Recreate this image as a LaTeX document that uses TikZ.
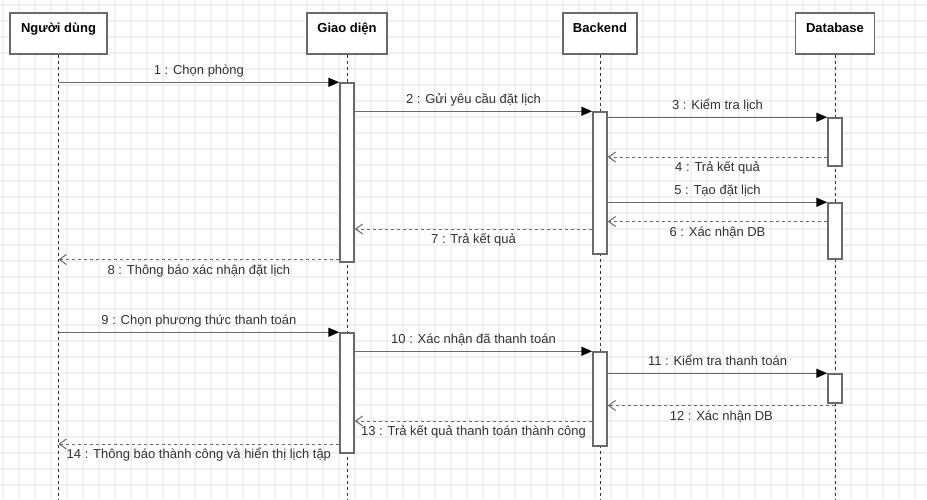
\documentclass[tikz,border=0pt]{standalone}
\usepackage{fontspec}
\setmainfont{Liberation Sans}
\usetikzlibrary{positioning}
\usetikzlibrary{arrows.meta}

\definecolor{linegray}{HTML}{6A6A6A}
\definecolor{textgray}{HTML}{333333}
\definecolor{gridgray}{HTML}{F0F0F0}

\tikzset{
  actor/.style={draw=linegray,line width=1.5pt,fill=white,minimum height=41pt,
    inner sep=0pt,text height=9pt,text depth=12pt,text=black,
    font=\fontsize{13}{15}\selectfont\bfseries},
  bar/.style={draw=linegray,line width=1.5pt,fill=white,minimum width=14pt,inner sep=0pt},
  life/.style={draw=black!80,line width=0.8pt,dash pattern=on 3pt off 3pt},
  call/.style={draw=linegray,line width=1.5pt,-{Triangle[length=11pt,width=9pt,color=black]}},
  reply/.style={draw=linegray,line width=1pt,dash pattern=on 3pt off 3pt,
    -{Straight Barb[length=7pt,width=10pt]}},
  msg/.style={font=\fontsize{13}{15}\selectfont,text=textgray,inner sep=2pt,
    text height=9pt,text depth=2.6pt}
}

\begin{document}
\begin{tikzpicture}[x=1pt,y=-1pt]
 \useasboundingbox[fill=white] (0,0) rectangle (927,499);
 % background grid
 \foreach \gx in {3,19,...,925} \draw[gridgray,line width=1.2pt] (\gx,0) -- (\gx,499);
 \foreach \gy in {5,21,...,499} \draw[gridgray,line width=1.2pt] (0,\gy) -- (927,\gy);

 % lifelines
 \node[actor,minimum width=97pt] (user) at (58.5,33.5) {Người dùng};
 \node[actor,minimum width=80pt] (gd) at (347,33.5) {Giao diện};
 \node[actor,minimum width=74pt] (be) at (600,33.5) {Backend};
 \node[actor,minimum width=79pt] (db) at (835,33.5) {Database};
 \coordinate (userend) at (58.5,499);
 \coordinate (gdend) at (347,499);
 \coordinate (beend) at (600,499);
 \coordinate (dbend) at (835,499);
 \draw[life] (user.south) -- (userend);
 \draw[life] (gd.south) -- (gdend);
 \draw[life] (be.south) -- (beend);
 \draw[life] (db.south) -- (dbend);

 % activations
 \node[bar,minimum height=179pt] (gd1) at (347,172.5) {};
 \node[bar,minimum height=120pt] (gd2) at (347,393) {};
 \node[bar,minimum height=142pt] (be1) at (600,183) {};
 \node[bar,minimum height=94pt] (be2) at (600,399) {};
 \node[bar,minimum height=48pt] (db1) at (835,142) {};
 \node[bar,minimum height=56pt] (db2) at (835,231) {};
 \node[bar,minimum height=29pt] (db3) at (835,388.5) {};

 % booking
 \draw[call] (user |- gd1.north) -- node[msg,above=2pt] {1 : Chọn phòng} (gd1.north west);
 \draw[call] (gd1.east |- be1.north) -- node[msg,above=2pt] {2 : Gửi yêu cầu đặt lịch} (be1.north west);
 \draw[call] (be1.east |- db1.north) -- node[msg,above=2pt] {3 : Kiểm tra lịch} (db1.north west);
 \draw[reply] (db1.west |- 0,157) -- node[msg,below=3pt] {4 : Trả kết quả} (be1.east |- 0,157);
 \draw[call] (be1.east |- db2.north) -- node[msg,above=2pt] {5 : Tạo đặt lịch} (db2.north west);
 \draw[reply] (db2.west |- 0,221.5) -- node[msg,below=3pt] {6 : Xác nhận DB} (be1.east |- 0,221.5);
 \draw[reply] (be1.west |- 0,229) -- node[msg,below=3pt] {7 : Trả kết quả} (gd1.east |- 0,229);
 \draw[reply] (gd1.west |- 0,259.5) -- node[msg,below=3pt] {8 : Thông báo xác nhận đặt lịch} (user |- 0,259.5);

 % payment
 \draw[call] (user |- gd2.north) -- node[msg,above=2pt] {9 : Chọn phương thức thanh toán} (gd2.north west);
 \draw[call] (gd2.east |- be2.north) -- node[msg,above=2pt] {10 : Xác nhận đã thanh toán} (be2.north west);
 \draw[call] (be2.east |- db3.north) -- node[msg,above=2pt] {11 : Kiểm tra thanh toán} (db3.north west);
 \draw[reply] (db3 |- 0,405.5) -- node[msg,below=3pt] {12 : Xác nhận DB} (be2.east |- 0,405.5);
 \draw[reply] (be2.west |- 0,421) -- node[msg,below=3pt] {13 : Trả kết quả thanh toán thành công} (gd2.east |- 0,421);
 \draw[reply] (gd2.west |- 0,444) -- node[msg,below=3pt] {14 : Thông báo thành công và hiển thị lịch tập} (user |- 0,444);
\end{tikzpicture}
\end{document}
